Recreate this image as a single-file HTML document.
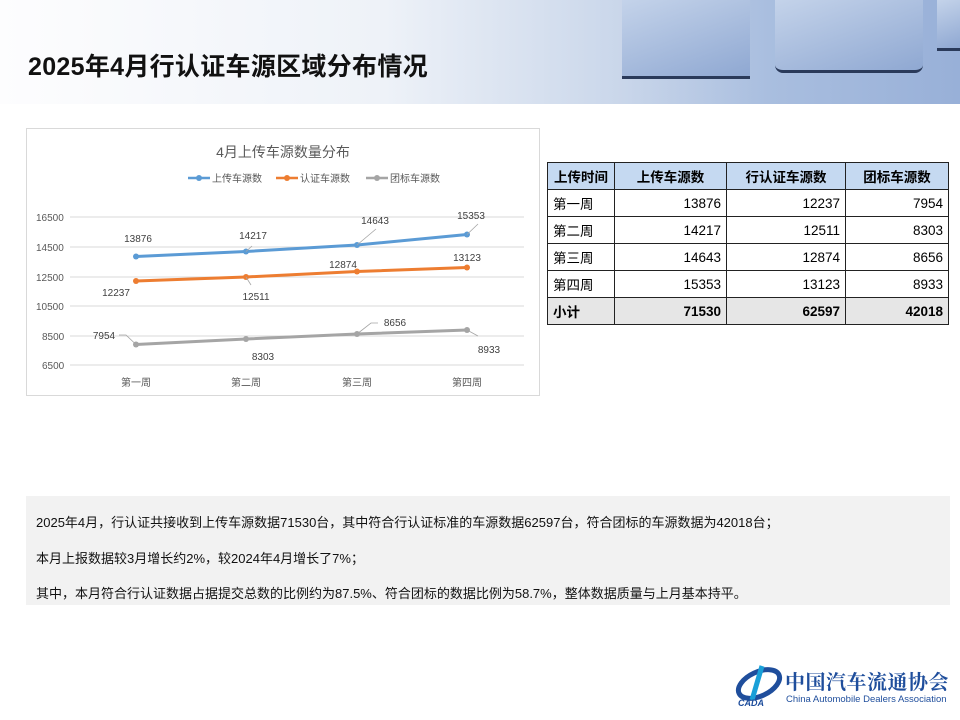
<!DOCTYPE html>
<html><head><meta charset="utf-8"><style>
body{margin:0;width:960px;height:720px;position:relative;overflow:hidden;background:#fff;font-family:"Liberation Sans","Noto Sans CJK SC",sans-serif}
.hdr{position:absolute;left:0;top:0;width:960px;height:104px;background:linear-gradient(90deg,#fdfdfe 0%,#eef2f8 40%,#c9d6ea 65%,#a9bedf 80%,#98b0d8 100%)}
.cube{position:absolute;background:linear-gradient(160deg,#c4d3ea,#8fa8d2);border-bottom:3px solid #2a3a5a}
h1{position:absolute;left:28px;top:47px;margin:0;font-size:25px;font-weight:bold;color:#111;white-space:nowrap;letter-spacing:0.3px}
table{position:absolute;left:547px;top:162px;border-collapse:collapse;font-size:13.5px}
td{border:1px solid #222;height:26px;padding:0 5px;text-align:right}
td:first-child{text-align:left}
tr.h td{background:#c5d9f1;text-align:center;font-weight:bold}
tr.t td{background:#e6e6e6;font-weight:bold}
.box{position:absolute;left:26px;top:496px;width:924px;height:109px;background:#f2f2f2;font-size:13px;color:#111}
.box p{margin:0;position:absolute;left:10px;white-space:nowrap}
</style></head><body>
<div class="hdr"></div>
<div class="cube" style="left:622px;top:0;width:128px;height:76px"></div>
<div class="cube" style="left:775px;top:0;width:148px;height:70px;border-radius:0 0 8px 8px"></div>
<div class="cube" style="left:937px;top:0;width:23px;height:48px"></div>
<h1>2025年4月行认证车源区域分布情况</h1>
<svg style="position:absolute;left:26px;top:128px" width="514" height="268" font-family="Liberation Sans,Noto Sans CJK SC,sans-serif">
<rect x="0.5" y="0.5" width="513" height="267" fill="#fff" stroke="#d9d9d9"/>
<text x="257" y="29" text-anchor="middle" font-size="14" fill="#595959">4月上传车源数量分布</text>
<g font-size="10" fill="#595959">
<line x1="162" y1="50" x2="184" y2="50" stroke="#5b9bd5" stroke-width="2.5"/><circle cx="173" cy="50" r="3" fill="#5b9bd5"/><text x="186" y="54">上传车源数</text>
<line x1="250" y1="50" x2="272" y2="50" stroke="#ed7d31" stroke-width="2.5"/><circle cx="261" cy="50" r="3" fill="#ed7d31"/><text x="274" y="54">认证车源数</text>
<line x1="340" y1="50" x2="362" y2="50" stroke="#a5a5a5" stroke-width="2.5"/><circle cx="351" cy="50" r="3" fill="#a5a5a5"/><text x="364" y="54">团标车源数</text>
</g>
<g stroke="#d9d9d9" stroke-width="1">
<line x1="44" y1="89" x2="498" y2="89"/><line x1="44" y1="119" x2="498" y2="119"/><line x1="44" y1="149" x2="498" y2="149"/><line x1="44" y1="178" x2="498" y2="178"/><line x1="44" y1="208" x2="498" y2="208"/><line x1="44" y1="237" x2="498" y2="237"/>
</g>
<g font-size="10" fill="#595959">
<text x="10" y="93">16500</text><text x="10" y="123">14500</text><text x="10" y="153">12500</text><text x="10" y="182">10500</text><text x="16" y="212">8500</text><text x="16" y="241">6500</text>
<text x="110" y="258" text-anchor="middle">第一周</text><text x="220" y="258" text-anchor="middle">第二周</text><text x="331" y="258" text-anchor="middle">第三周</text><text x="441" y="258" text-anchor="middle">第四周</text>
</g>
<polyline points="110,128.5 220,123.5 331,117 441,106.5" fill="none" stroke="#5b9bd5" stroke-width="3"/>
<polyline points="110,153 220,149 331,143.5 441,139.5" fill="none" stroke="#ed7d31" stroke-width="3"/>
<polyline points="110,216.5 220,211 331,206 441,202" fill="none" stroke="#a5a5a5" stroke-width="3"/>
<g fill="#5b9bd5"><circle cx="110" cy="128.5" r="3"/><circle cx="220" cy="123.5" r="3"/><circle cx="331" cy="117" r="3"/><circle cx="441" cy="106.5" r="3"/></g>
<g fill="#ed7d31"><circle cx="110" cy="153" r="3"/><circle cx="220" cy="149" r="3"/><circle cx="331" cy="143.5" r="3"/><circle cx="441" cy="139.5" r="3"/></g>
<g fill="#a5a5a5"><circle cx="110" cy="216.5" r="3"/><circle cx="220" cy="211" r="3"/><circle cx="331" cy="206" r="3"/><circle cx="441" cy="202" r="3"/></g>
<g stroke="#a5a5a5" fill="none" stroke-width="0.8"><path d="M331,117 L350,101"/><path d="M441,106.5 L452,96"/><path d="M220,149 L225,157"/><path d="M110,216.5 L100,207 L93,207"/><path d="M331,206 L345,195 L352,195"/><path d="M441,202 L452,208"/><path d="M220,123.5 L226,118"/></g>
<g font-size="10" fill="#404040" text-anchor="middle">
<text x="112" y="114">13876</text><text x="227" y="111">14217</text><text x="349" y="96">14643</text><text x="445" y="91">15353</text>
<text x="90" y="168">12237</text><text x="230" y="172">12511</text><text x="317" y="140">12874</text><text x="441" y="133">13123</text>
<text x="78" y="211">7954</text><text x="237" y="232">8303</text><text x="369" y="198">8656</text><text x="463" y="225">8933</text>
</g>
</svg>
<table>
<tr class="h"><td style="width:56px">上传时间</td><td style="width:101px">上传车源数</td><td style="width:108px">行认证车源数</td><td style="width:92px">团标车源数</td></tr>
<tr><td>第一周</td><td>13876</td><td>12237</td><td>7954</td></tr>
<tr><td>第二周</td><td>14217</td><td>12511</td><td>8303</td></tr>
<tr><td>第三周</td><td>14643</td><td>12874</td><td>8656</td></tr>
<tr><td>第四周</td><td>15353</td><td>13123</td><td>8933</td></tr>
<tr class="t"><td>小计</td><td>71530</td><td>62597</td><td>42018</td></tr>
</table>
<div class="box">
<p style="top:16px">2025年4月，行认证共接收到上传车源数据71530台，其中符合行认证标准的车源数据62597台，符合团标的车源数据为42018台；</p>
<p style="top:52px">本月上报数据较3月增长约2%，较2024年4月增长了7%；</p>
<p style="top:87px">其中，本月符合行认证数据占据提交总数的比例约为87.5%、符合团标的数据比例为58.7%，整体数据质量与上月基本持平。</p>
</div>
<svg style="position:absolute;left:734px;top:662px" width="50" height="46"><ellipse cx="25" cy="22" rx="22" ry="12" fill="none" stroke="#1f4e9c" stroke-width="5" transform="rotate(-25 25 22)"/><path d="M28,4 L18,38" stroke="#1aa0d8" stroke-width="5"/><text x="4" y="44" font-size="9" font-style="italic" font-weight="bold" fill="#1f4e9c" font-family="Liberation Sans">CADA</text></svg>
<div style="position:absolute;left:785px;top:666px;font-size:20px;font-family:'Noto Serif CJK SC',serif;color:#1f4e9c;font-weight:bold;white-space:nowrap;letter-spacing:0.5px">中国汽车流通协会</div>
<div style="position:absolute;left:786px;top:694px;font-size:9.5px;color:#1f4e9c;white-space:nowrap">China Automobile Dealers Association</div>
</body></html>
